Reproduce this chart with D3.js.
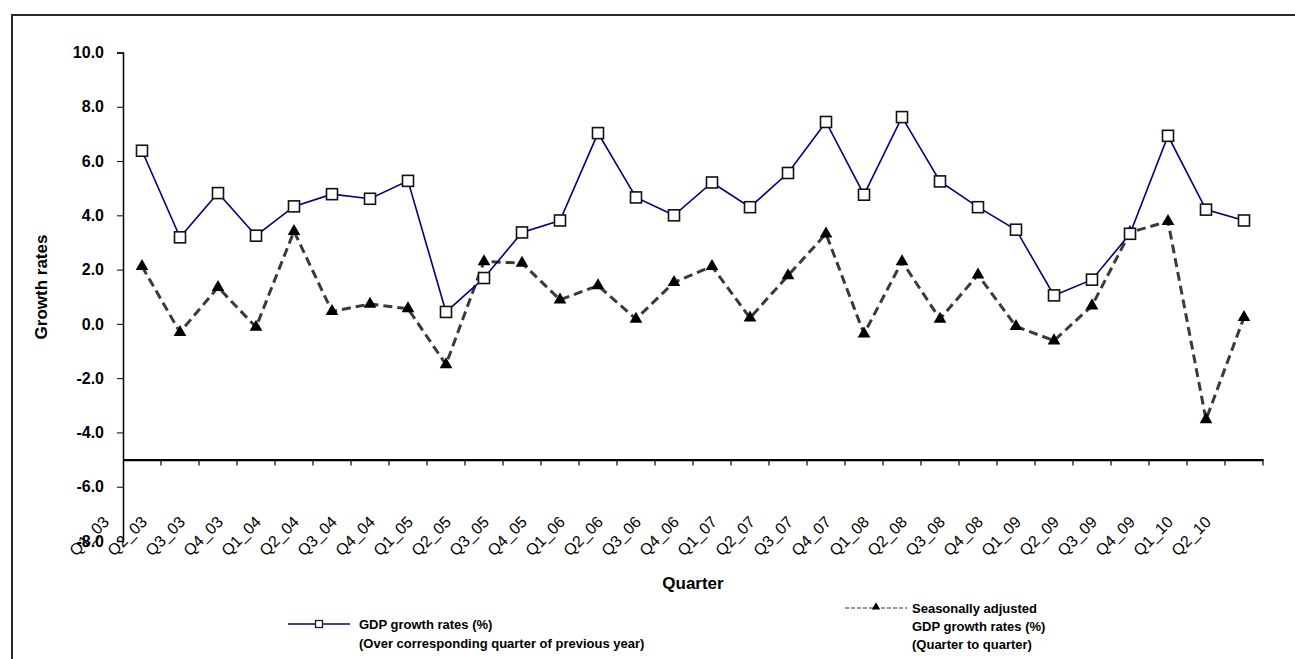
<!DOCTYPE html>
<html>
<head>
<meta charset="utf-8">
<script src="https://cdn.jsdelivr.net/npm/d3@7"></script>
<style>
  body { margin: 0; background: #fff; }
  text { font-family: "Liberation Sans", Arial, sans-serif; }
</style>
</head>
<body>
<div id="chart"></div>
<script>
let quarters = ["Q1_03","Q2_03","Q3_03","Q4_03","Q1_04","Q2_04","Q3_04","Q4_04",
                "Q1_05","Q2_05","Q3_05","Q4_05","Q1_06","Q2_06","Q3_06","Q4_06",
                "Q1_07","Q2_07","Q3_07","Q4_07","Q1_08","Q2_08","Q3_08","Q4_08",
                "Q1_09","Q2_09","Q3_09","Q4_09","Q1_10","Q2_10"];

// over corresponding quarter of previous year
let gdpYoY = [6.38, 3.19, 4.82, 3.25, 4.33, 4.78, 4.61, 5.27,
              0.44, 1.69, 3.37, 3.81, 7.03, 4.66, 4.00, 5.21,
              4.30, 5.56, 7.44, 4.76, 7.62, 5.25, 4.30, 3.47,
              1.05, 1.63, 3.32, 6.93, 4.21, 3.81];

// seasonally adjusted, quarter to quarter
let gdpQoQ = [2.12, -0.31, 1.35, -0.12, 3.41, 0.46, 0.73, 0.56,
              -1.50, 2.30, 2.24, 0.89, 1.41, 0.18, 1.53, 2.12,
              0.22, 1.78, 3.32, -0.37, 2.30, 0.18, 1.81, -0.09,
              -0.62, 0.67, 3.37, 3.78, -3.53, 0.24];

let yTicks = [-8, -6, -4, -2, 0, 2, 4, 6, 8, 10];

let W = 1295, H = 659;
let plotLeft = 123, plotRight = 1263, plotTop = 52.5, plotBottom = 541;

let svg = d3.select("#chart").append("svg")
    .attr("width", W)
    .attr("height", H);

// outer chart frame
svg.append("rect")
    .attr("x", 12).attr("y", 15)
    .attr("width", 1400).attr("height", 800)
    .attr("fill", "none")
    .attr("stroke", "#2a2a2a")
    .attr("stroke-width", 2);

let x = d3.scaleBand()
    .domain(quarters)
    .range([plotLeft, plotRight]);
let cx = d => x(d) + x.bandwidth() / 2;

let y = d3.scaleLinear()
    .domain([-8, 10])
    .range([plotBottom, plotTop]);

// y axis
let yAxis = d3.axisLeft(y)
    .tickValues(yTicks)
    .tickSize(6)
    .tickPadding(13)
    .tickFormat(d => d.toFixed(1));

let yg = svg.append("g")
    .attr("transform", "translate(" + plotLeft + ",0)")
    .call(yAxis);
yg.select(".domain").attr("stroke", "#000").attr("stroke-width", 1.5);
yg.selectAll(".tick line").attr("stroke", "#000");
yg.selectAll("text")
    .attr("font-size", 16)
    .attr("font-weight", "bold")
    .attr("fill", "#000")
    .attr("font-family", "Liberation Sans, Arial, sans-serif");

// x axis crosses at -5
let xAxis = d3.axisBottom(x).tickSize(0).tickFormat("");
let xg = svg.append("g")
    .attr("transform", "translate(0," + y(-5) + ")")
    .call(xAxis);
xg.select(".domain").attr("stroke", "#000").attr("stroke-width", 2.2);

// tick marks on category boundaries
xg.selectAll(".bound")
    .data(quarters)
    .enter().append("line")
    .attr("x1", d => x(d) + x.bandwidth())
    .attr("x2", d => x(d) + x.bandwidth())
    .attr("y1", 0).attr("y2", 6)
    .attr("stroke", "#000")
    .attr("stroke-width", 1.2);

// rotated category labels (shifted left like the original)
svg.append("g").selectAll("text")
    .data(quarters)
    .enter().append("text")
    .attr("transform", d => "translate(" + (cx(d) - 32) + ",523) rotate(-45)")
    .attr("text-anchor", "end")
    .attr("font-size", 16)
    .attr("fill", "#000")
    .text(d => d);

// axis titles
svg.append("text")
    .attr("x", (plotLeft + plotRight) / 2)
    .attr("y", 589)
    .attr("text-anchor", "middle")
    .attr("font-size", 17)
    .attr("font-weight", "bold")
    .text("Quarter");

svg.append("text")
    .attr("transform", "translate(47,287) rotate(-90)")
    .attr("text-anchor", "middle")
    .attr("font-size", 17)
    .attr("font-weight", "bold")
    .text("Growth rates");

// series
let line = d3.line()
    .x((d, i) => cx(quarters[i]))
    .y(d => y(d));

svg.append("path")
    .datum(gdpQoQ)
    .attr("d", line)
    .attr("fill", "none")
    .attr("stroke", "#3a3a3a")
    .attr("stroke-width", 3)
    .attr("stroke-dasharray", "9,5");

svg.append("path")
    .datum(gdpYoY)
    .attr("d", line)
    .attr("fill", "none")
    .attr("stroke", "#000080")
    .attr("stroke-width", 1.6);

let tri = d3.symbol().type(d3.symbolTriangle).size(70);
svg.append("g").selectAll("path")
    .data(gdpQoQ)
    .enter().append("path")
    .attr("d", tri)
    .attr("transform", (d, i) => "translate(" + cx(quarters[i]) + "," + y(d) + ")")
    .attr("fill", "#000");

svg.append("g").selectAll("rect")
    .data(gdpYoY)
    .enter().append("rect")
    .attr("x", (d, i) => cx(quarters[i]) - 5.5)
    .attr("y", d => y(d) - 5.5)
    .attr("width", 11).attr("height", 11)
    .attr("fill", "#fff")
    .attr("stroke", "#111")
    .attr("stroke-width", 1.6);

// legend
let lg = svg.append("g").attr("font-size", 13).attr("font-weight", "bold");

lg.append("line")
    .attr("x1", 288).attr("x2", 350)
    .attr("y1", 624).attr("y2", 624)
    .attr("stroke", "#000080").attr("stroke-width", 1.6);
lg.append("rect")
    .attr("x", 315.5).attr("y", 620.5)
    .attr("width", 7).attr("height", 7)
    .attr("fill", "#fff").attr("stroke", "#111").attr("stroke-width", 1.2);
lg.append("text").attr("x", 359).attr("y", 629).text("GDP growth rates (%)");
lg.append("text").attr("x", 359).attr("y", 648).text("(Over corresponding quarter of previous year)");

lg.append("line")
    .attr("x1", 845).attr("x2", 907)
    .attr("y1", 608).attr("y2", 608)
    .attr("stroke", "#333").attr("stroke-width", 1)
    .attr("stroke-dasharray", "4,2");
lg.append("path")
    .attr("d", d3.symbol().type(d3.symbolTriangle).size(30))
    .attr("transform", "translate(876,607)")
    .attr("fill", "#000");
lg.append("text").attr("x", 912).attr("y", 613).text("Seasonally adjusted");
lg.append("text").attr("x", 912).attr("y", 631).text("GDP growth rates (%)");
lg.append("text").attr("x", 912).attr("y", 649).text("(Quarter to quarter)");
</script>
</body>
</html>
